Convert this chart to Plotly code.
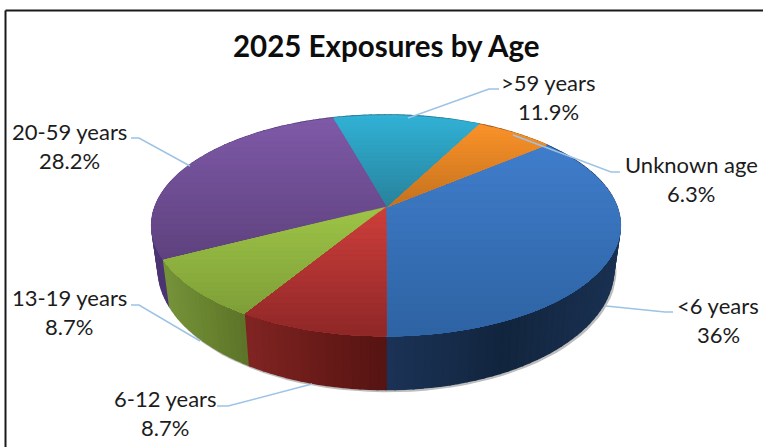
import math
import plotly.graph_objects as go

# ---- data ----
categories = ["<6 years", "Unknown age", ">59 years", "20-59 years", "13-19 years", "6-12 years"]
values = [36, 6.3, 11.9, 28.2, 8.7, 8.7]

top_light = ["#3F7DCB", "#FB9229", "#31B2D6", "#7F59A8", "#9EC447", "#CE3F3B"]
top_dark = ["#2E63A3", "#C4721F", "#28829C", "#5E427E", "#7E9F38", "#8F2728"]
wall_left = ["#1B3357", "#8A5015", "#1C6A80", "#4C3472", "#75933A", "#802522"]
wall_mid = ["#12253E", "#8A5015", "#1C6A80", "#4A3270", "#69832F", "#6A1B19"]
wall_right = ["#1A3152", "#8A5015", "#1C6A80", "#473070", "#5C7328", "#551412"]

# label positions: (x, y of first line, y of second line)
label_pos = [(718, 305, 334), (691, 164, 193), (548, 82, 111), (69, 131, 160), (69, 297, 326), (165, 398, 427)]
leader_x = [[673, 665, 606], [620, 611, 513], [499, 489, 408], [131, 139, 190], [131, 139, 200], [217, 228, 312]]
leader_y = [[312, 312, 306], [172, 172, 135], [89, 89, 118], [138, 138, 166], [305, 305, 341], [406, 406, 384]]

title = "2025 Exposures by Age"
FONT = "Lato"

# ---- pie projection ----
CX, CY = 386.0, 207.0
AX, AY, K = 231.0, 107.4, 0.167
BASE_CY, BASE_SY, BASE_SX = 249.0, 1.09, 0.972


def hex2rgb(h):
    return [int(h[i:i + 2], 16) for i in (1, 3, 5)]


def mix(a, b, t):
    t = max(0.0, min(1.0, t))
    ca, cb = hex2rgb(a), hex2rgb(b)
    return "rgb(%d,%d,%d)" % tuple(round(ca[i] + (cb[i] - ca[i]) * t) for i in range(3))


def proj(deg):
    r = math.radians(deg)
    d = 1 + K * math.cos(r)
    return AX * math.sin(r) / d, AY * math.cos(r) / d


def top_pt(deg):
    x, y = proj(deg)
    return CX + x, CY - y


def base_pt(deg):
    x, y = proj(deg)
    return CX + BASE_SX * x, BASE_CY - BASE_SY * y


def clip_below(poly, lo):
    out = []
    for i, p in enumerate(poly):
        q = poly[(i + 1) % len(poly)]
        if p[1] >= lo:
            out.append(p)
        if (p[1] >= lo) != (q[1] >= lo):
            t = (lo - p[1]) / (q[1] - p[1])
            out.append((p[0] + t * (q[0] - p[0]), lo))
    return out


fig = go.Figure()


def patch(pts, color, lw=0.6):
    xs = [p[0] for p in pts] + [pts[0][0]]
    ys = [p[1] for p in pts] + [pts[0][1]]
    fig.add_trace(go.Scatter(x=xs, y=ys, mode="lines", fill="toself", fillcolor=color,
                             line=dict(color=color, width=lw), hoverinfo="skip", showlegend=False))


# slice angle ranges, clockwise from the back of the pie
total = sum(values)
angles = []
end = 180.0
for v in values:
    start = end - v / total * 360
    angles.append((start, end))
    end = start

# soft shadow under the base
shadow = [base_pt(a) for a in range(85, 276, 3)]
fig.add_trace(go.Scatter(x=[p[0] + 1.5 for p in shadow], y=[p[1] + 1.5 for p in shadow], mode="lines",
                         line=dict(color="#BDBDBD", width=2.5), hoverinfo="skip", showlegend=False))

# side walls (vertical strips shaded left to right)
for i, (a0, a1) in enumerate(angles):
    lo, hi = a0, a1
    strips = 2 + int((hi - lo) / 2)
    xs_all = [top_pt(lo + (hi - lo) * j / strips)[0] for j in range(strips + 1)]
    xmin, xmax = min(xs_all), max(xs_all)
    for j in range(strips):
        b0 = lo + (hi - lo) * j / strips
        b1 = lo + (hi - lo) * (j + 1) / strips
        xmid = (top_pt(b0)[0] + top_pt(b1)[0]) / 2
        t = (xmid - xmin) / max(xmax - xmin, 1)
        color = mix(wall_left[i], wall_mid[i], t * 2) if t < 0.5 else mix(wall_mid[i], wall_right[i], t * 2 - 1)
        patch([top_pt(b0), top_pt(b1), base_pt(b1), base_pt(b0)], color, 1.6)

# top faces: overlapping bands painted top to bottom, so no seams show
for i, (a0, a1) in enumerate(angles):
    n = max(8, int((a1 - a0) / 1.5))
    poly = [(CX, CY)] + [top_pt(a0 + (a1 - a0) * j / n) for j in range(n + 1)]
    ymin = min(p[1] for p in poly)
    ymax = max(p[1] for p in poly)
    bands = 24
    for b in range(bands):
        y0 = ymin + (ymax - ymin) * b / bands
        pts = clip_below(poly, y0)
        if len(pts) >= 3:
            patch(pts, mix(top_light[i], top_dark[i], (b + 0.5) / bands), 0.4)

# leader lines
for lx, ly in zip(leader_x, leader_y):
    fig.add_trace(go.Scatter(x=lx, y=ly, mode="lines", line=dict(color="#9DC3E6", width=1.5),
                             hoverinfo="skip", showlegend=False))

# labels
for name, v, (x, y1, y2) in zip(categories, values, label_pos):
    fig.add_annotation(x=x, y=y1, text=name, showarrow=False, xanchor="center", yanchor="middle",
                       font=dict(family=FONT, size=22, color="#1C1C1C"))
    fig.add_annotation(x=x, y=y2, text=f"{v:g}%", showarrow=False, xanchor="center", yanchor="middle",
                       font=dict(family=FONT, size=22, color="#1C1C1C"))
fig.add_annotation(x=386, y=45.5, text=f"<b>{title}</b>", showarrow=False, xanchor="center", yanchor="middle",
                   font=dict(family=FONT, size=29.5, color="#0D0D0D"))

# frame of the screenshot
fig.add_shape(type="line", x0=5.5, x1=763, y0=10.5, y1=10.5, line=dict(color="#1A1A1A", width=2))
fig.add_shape(type="line", x0=5.5, x1=5.5, y0=10.5, y1=447, line=dict(color="#1A1A1A", width=2))

fig.update_xaxes(visible=False, range=[0, 763], fixedrange=True)
fig.update_yaxes(visible=False, range=[447, 0], fixedrange=True)
fig.update_layout(width=763, height=447, margin=dict(l=0, r=0, t=0, b=0), showlegend=False,
                  paper_bgcolor="white", plot_bgcolor="white", hovermode=False)
fig.write_html("out.html", config=dict(displayModeBar=False),
               post_script="document.body.style.margin='0';")
